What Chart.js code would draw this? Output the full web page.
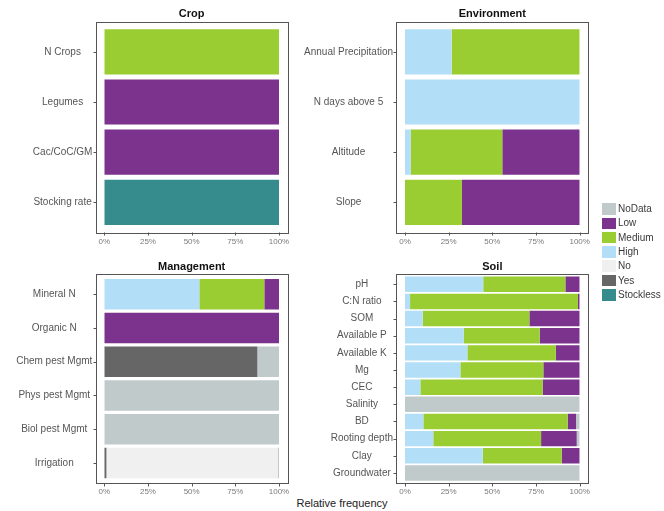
<!DOCTYPE html>
<html>
<head>
<meta charset="utf-8">
<script src="https://cdn.jsdelivr.net/npm/chart.js@4/dist/chart.umd.min.js"></script>
<style>
  html, body { margin: 0; padding: 0; background: #fff; }
  #wrap { position: relative; width: 664px; height: 511px; overflow: hidden;
          font-family: "Liberation Sans", Arial, sans-serif; }
  #wrap canvas { position: absolute; left: 0; top: 0; }
  .key { position: absolute; left: 602px; width: 14px; height: 11.5px; }
  .lab { position: absolute; left: 618px; font-size: 10px; line-height: 12px; color: #3a3a3a; }
  #xtitle { position: absolute; left: 0; width: 684px; top: 496px; text-align: center;
            font-size: 11px; line-height: 14px; color: #222; }
</style>
</head>
<body>
<div id="wrap">
  <div id="xtitle">Relative frequency</div>
</div>
<script>
// Rating levels, in stacking order from the left edge of each bar
const levels = ['Stockless', 'Yes', 'No', 'High', 'Medium', 'Low', 'NoData'];
// Legend order
const legendLevels = ['NoData', 'Low', 'Medium', 'High', 'No', 'Yes', 'Stockless'];
const fills = {
  NoData: '#c1cacb', Low: '#7b338d', Medium: '#9acd32', High: '#b3def8',
  No: '#f0f0f0', Yes: '#666666', Stockless: '#368b8c'
};

// Crop (% of sites)
const cropCats = ['N Crops', 'Legumes', 'Cac/CoC/GM', 'Stocking rate'];
const cropMedium    = [100, 0, 0, 0];
const cropLow       = [0, 100, 100, 0];
const cropStockless = [0, 0, 0, 100];

// Environment
const envCats = ['Annual Precipitation', 'N days above 5', 'Altitude', 'Slope'];
const envHigh   = [26.7, 100, 3.2, 0];
const envMedium = [73.3, 0, 52.5, 32.6];
const envLow    = [0, 0, 44.3, 67.4];

// Management
const mgmtCats = ['Mineral N', 'Organic N', 'Chem pest Mgmt', 'Phys pest Mgmt', 'Biol pest Mgmt', 'Irrigation'];
const mgmtYes    = [0, 0, 87.6, 0, 0, 1.2];
const mgmtNo     = [0, 0, 0, 0, 0, 98.1];
const mgmtHigh   = [54.4, 0, 0, 0, 0, 0];
const mgmtMedium = [37.2, 0, 0, 0, 0, 0];
const mgmtLow    = [8.4, 100, 0, 0, 0, 0];
const mgmtNoData = [0, 0, 12.4, 100, 100, 0.7];

// Soil
const soilCats = ['pH', 'C:N ratio', 'SOM', 'Available P', 'Available K', 'Mg', 'CEC',
                  'Salinity', 'BD', 'Rooting depth', 'Clay', 'Groundwater'];
const soilHigh   = [44.8, 2.9, 10.1, 33.6, 35.7, 31.7, 8.8, 0, 10.5, 16.2, 44.5, 0];
const soilMedium = [47.0, 96.1, 61.1, 43.5, 50.6, 47.5, 70.0, 0, 82.6, 61.7, 45.2, 0];
const soilLow    = [8.2, 1.0, 28.8, 22.9, 13.7, 20.8, 21.2, 0, 4.8, 20.4, 10.3, 0];
const soilNoData = [0, 0, 0, 0, 0, 0, 0, 100, 2.1, 1.7, 0, 100];

const xTicks = [0, 25, 50, 75, 100];

const FONT = '"Liberation Sans", Arial, sans-serif';
Chart.defaults.font.family = FONT;

// Panel placement: pixel of 0% / 100% and the panel frame's top / bottom
const panels = [
  { title: 'Crop', cats: cropCats, x0: 104.3, x100: 279.0, top: 21.7, bottom: 232.4,
    series: { Medium: cropMedium, Low: cropLow, Stockless: cropStockless } },
  { title: 'Environment', cats: envCats, x0: 405.0, x100: 579.7, top: 21.7, bottom: 232.4,
    series: { High: envHigh, Medium: envMedium, Low: envLow } },
  { title: 'Management', cats: mgmtCats, x0: 104.3, x100: 279.0, top: 274.0, bottom: 483.2,
    series: { Yes: mgmtYes, No: mgmtNo, High: mgmtHigh, Medium: mgmtMedium, Low: mgmtLow, NoData: mgmtNoData } },
  { title: 'Soil', cats: soilCats, x0: 405.0, x100: 579.7, top: 274.0, bottom: 483.2,
    series: { High: soilHigh, Medium: soilMedium, Low: soilLow, NoData: soilNoData } }
];

const wrap = document.getElementById('wrap');

function makePanel(p) {
  const canvas = document.createElement('canvas');
  canvas.width = 664; canvas.height = 511;
  wrap.appendChild(canvas);

  // discrete axis padded by 0.6 category on each side, bars 0.9 wide
  const n = p.cats.length;
  const unit = (p.bottom - p.top) / (n - 1 + 1.2);
  const catTop = p.top + 0.1 * unit;
  const catBottom = p.bottom - 0.1 * unit;
  const span = p.x100 - p.x0;
  const box = { l: p.x0 - 0.05 * span, r: p.x100 + 0.05 * span, t: p.top, b: p.bottom };

  const datasets = levels.filter(k => p.series[k]).map(k => ({
    label: k,
    data: p.series[k],
    backgroundColor: fills[k],
    borderWidth: 0,
    barPercentage: 0.9,
    categoryPercentage: 1.0
  }));

  const frame = {
    id: 'frame',
    afterDraw(chart) {
      const ctx = chart.ctx;
      const xs = chart.scales.x, ys = chart.scales.y;
      ctx.save();
      ctx.strokeStyle = '#555';
      ctx.lineWidth = 1;
      ctx.strokeRect(Math.round(box.l) + 0.5, Math.round(box.t) + 0.5,
                     Math.round(box.r - box.l), Math.round(box.b - box.t));
      ctx.beginPath();
      xs.ticks.forEach((t, i) => {
        const x = Math.round(xs.getPixelForTick(i)) + 0.5;
        ctx.moveTo(x, Math.round(box.b) + 0.5);
        ctx.lineTo(x, Math.round(box.b) + 3.5);
      });
      ys.ticks.forEach((t, i) => {
        const y = Math.round(ys.getPixelForTick(i)) + 0.5;
        ctx.moveTo(Math.round(box.l) + 0.5, y);
        ctx.lineTo(Math.round(box.l) - 2.5, y);
      });
      ctx.stroke();
      ctx.fillStyle = '#111';
      ctx.font = 'bold 11px ' + FONT;
      ctx.textAlign = 'center';
      ctx.textBaseline = 'middle';
      ctx.fillText(p.title, (box.l + box.r) / 2, box.t - 7.5);
      ctx.restore();
    }
  };

  new Chart(canvas, {
    type: 'bar',
    data: { labels: p.cats, datasets },
    options: {
      indexAxis: 'y',
      responsive: false,
      animation: false,
      devicePixelRatio: 1,
      layout: { padding: { left: 0, top: catTop, right: 664 - p.x100, bottom: 0 } },
      plugins: { legend: { display: false }, tooltip: { enabled: false }, title: { display: false } },
      scales: {
        x: {
          stacked: true, min: 0, max: 100,
          grid: { display: false, drawTicks: false },
          border: { display: false },
          afterBuildTicks: s => { s.ticks = xTicks.map(v => ({ value: v })); },
          ticks: {
            callback: v => v + '%',
            font: { size: 8 }, color: '#7a7a7a',
            padding: p.bottom + 9 - 4.8 - catBottom,
            maxRotation: 0, autoSkip: false
          },
          afterFit: s => { s.height = 511 - catBottom; }
        },
        y: {
          stacked: true,
          grid: { display: false, drawTicks: false },
          border: { display: false },
          ticks: { font: { size: 10 }, color: '#555', padding: 12, autoSkip: false, crossAlign: 'center' },
          afterFit: s => { s.width = p.x0; }
        }
      }
    },
    plugins: [frame]
  });
}

panels.forEach(makePanel);

// Legend
legendLevels.forEach((k, i) => {
  const cy = 209 + i * 14.3;
  const sw = document.createElement('div');
  sw.className = 'key';
  sw.style.top = (cy - 5.75) + 'px';
  sw.style.background = fills[k];
  wrap.appendChild(sw);
  const lb = document.createElement('div');
  lb.className = 'lab';
  lb.style.top = (cy - 6) + 'px';
  lb.textContent = k;
  wrap.appendChild(lb);
});
</script>
</body>
</html>
